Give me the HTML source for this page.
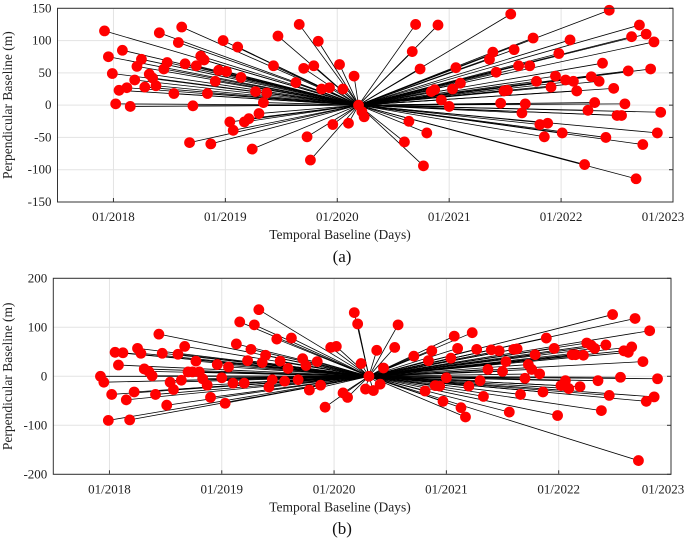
<!DOCTYPE html>
<html><head><meta charset="utf-8"><style>
body{margin:0;background:#fff;}
svg{display:block;}
svg text{font-family:"Liberation Serif","DejaVu Serif",serif;}
</style></head><body>
<svg id="c" width="685" height="540"></svg>
<script>
// Panel (a) data
const aRef = [2020.19, 0];
const aDates = [2017.92,2017.955,2017.99,2018.02,2018.05,2018.12,2018.08,2018.15,2018.19,2018.21,2018.25,2018.28,2018.32,2018.35,2018.38,2018.41,2018.45,2018.48,2018.54,2018.58,2018.61,2018.64,2018.68,2018.71,2018.74,2018.78,2018.81,2018.84,2018.87,2018.91,2018.94,2018.98,2019.01,2019.04,2019.07,2019.11,2019.14,2019.17,2019.21,2019.24,2019.27,2019.30,2019.34,2019.37,2019.43,2019.47,2019.63,2019.66,2019.70,2019.73,2019.76,2019.79,2019.83,2019.86,2019.93,2019.96,2020.02,2020.05,2020.10,2020.15,2020.24,2020.22,2020.64,2020.60,2020.67,2020.70,2020.74,2020.77,2020.80,2020.90,2020.84,2020.87,2020.93,2021.00,2021.03,2021.06,2021.10,2021.36,2021.39,2021.42,2021.46,2021.49,2021.52,2021.55,2021.58,2021.62,2021.65,2021.68,2021.72,2021.75,2021.78,2021.81,2021.85,2021.88,2021.91,2021.95,2021.98,2022.01,2022.04,2022.08,2022.11,2022.14,2022.21,2022.24,2022.27,2022.30,2022.34,2022.37,2022.40,2022.43,2022.47,2022.50,2022.54,2022.57,2022.60,2022.63,2022.67,2022.70,2022.73,2022.76,2022.80,2022.83,2022.86,2022.89];
const aBaselines = [115,75,49,2,23,27,85,-2,39,60,71,28,48,42,30,112,56,66,18,97,121,64,-58,-1,61,76,70,18,-60,37,54,100,52,-26,-39,90,43,-26,-21,-68,21,-13,4,19,61,107,35,125,57,-49,-85,61,99,25,27,-30,63,25,-28,45,-18,-10,-25,-57,83,125,56,-94,-43,124,21,24,8,-2,25,58,34,71,82,51,3,22,23,141,86,61,-12,2,61,104,37,-30,-49,-28,28,45,80,-43,39,101,37,22,-92,-8,44,4,37,65,-50,147,26,-16,-16,2,53,106,-114,124,-61,110,56,98,-43,-11];
const aYTicks = [150,100,50,0,-50,-100,-150];
// Panel (b) data
const bRef = [2020.31, 0];
const bDates = [2017.92,2017.95,2017.99,2018.02,2018.05,2018.08,2018.12,2018.15,2018.18,2018.22,2018.25,2018.28,2018.31,2018.35,2018.38,2018.41,2018.44,2018.47,2018.51,2018.54,2018.57,2018.61,2018.64,2018.67,2018.70,2018.74,2018.77,2018.80,2018.83,2018.87,2018.90,2018.96,2019.00,2019.03,2019.06,2019.10,2019.13,2019.16,2019.20,2019.23,2019.26,2019.29,2019.33,2019.36,2019.39,2019.42,2019.45,2019.49,2019.52,2019.56,2019.59,2019.62,2019.68,2019.72,2019.75,2019.78,2019.85,2019.88,2019.92,2019.97,2020.02,2020.08,2020.12,2020.18,2020.21,2020.24,2020.28,2020.35,2020.38,2020.41,2020.44,2020.54,2020.57,2020.71,2020.81,2020.84,2020.87,2020.90,2020.94,2020.97,2021.00,2021.04,2021.07,2021.10,2021.13,2021.17,2021.20,2021.23,2021.27,2021.30,2021.33,2021.37,2021.40,2021.47,2021.50,2021.53,2021.56,2021.60,2021.63,2021.66,2021.70,2021.73,2021.76,2021.79,2021.83,2021.86,2021.89,2021.96,2021.99,2022.02,2022.06,2022.09,2022.12,2022.15,2022.19,2022.22,2022.25,2022.29,2022.32,2022.35,2022.38,2022.42,2022.45,2022.48,2022.55,2022.58,2022.62,2022.65,2022.68,2022.71,2022.75,2022.78,2022.81,2022.85,2022.88];
const bBaselines = [0,-12,-90,-37,49,23,48,-48,-89,-32,57,47,15,10,1,-37,86,47,-59,-12,-27,45,-8,61,9,9,31,9,-5,-18,-43,24,-3,-55,19,-14,66,111,-14,32,55,105,136,28,43,-22,-7,76,31,-10,16,78,-7,36,22,-28,30,-18,-63,59,61,-34,-43,130,107,26,-26,-29,53,-16,17,59,105,41,-30,32,52,-19,-20,-51,-3,37,82,57,-64,-83,-20,89,55,-9,-41,14,54,52,10,30,-73,55,56,-37,-4,24,14,44,5,-32,78,57,-80,-19,-9,-25,44,44,-21,43,68,63,57,-9,-70,64,-39,126,-2,52,49,60,118,-172,30,-51,93,-42,-5];
const bYTicks = [200,100,0,-100,-200];
const xTickYears = [2018,2019,2020,2021,2022,2023];
const xTickLabels = ["01/2018","01/2019","01/2020","01/2021","01/2022","01/2023"];

const NS="http://www.w3.org/2000/svg";
const svg=document.getElementById('c');
const FF='"Liberation Serif","DejaVu Serif",serif';
function mk(tag,attrs,parent){const e=document.createElementNS(NS,tag);for(const k in attrs)e.setAttribute(k,attrs[k]);if(tag==='text')e.setAttribute('font-family',FF);(parent||svg).appendChild(e);return e;}

function panel(p){
  const g=mk('g',{});
  
  
  const L=p.left,R=p.right,T=p.top,B=p.bottom;
  const xs=d=>L+(d-2017.5)/(5.5)*(R-L);
  const ys=v=>T+(p.ymax-v)/(p.ymax-p.ymin)*(B-T);
  xTickYears.forEach((yr,i)=>{
    const x=xs(yr);
    const gl=mk('line',{x1:x,x2:x,y1:T,y2:B,stroke:'#e3e3e3','stroke-width':1},g);
    
    
    const tk=mk('line',{x1:x,x2:x,y1:B,y2:B-4,stroke:'#333'},g);
    
    
    const t=mk('text',{x:Math.min(x,663),y:B+19,'text-anchor':'middle','font-size':13,fill:'#222'},g);
    t.textContent=xTickLabels[i];
    
    
  });
  p.yticks.forEach(v=>{
    const y=ys(v);
    const gl=mk('line',{x1:L,x2:R,y1:y,y2:y,stroke:'#e3e3e3'},g);
    
    
    const tk=mk('line',{x1:R,x2:R-4,y1:y,y2:y,stroke:'#333'},g);
    
    
    const t=mk('text',{x:L-6,y:y+4,'text-anchor':'end','font-size':13,fill:'#222'},g);
    t.textContent=String(v);
    
    
  });
  const cx=xs(p.ref[0]),cy=ys(p.ref[1]);
  p.dates.forEach((d,i)=>{
    const ln=mk('line',{x1:cx,y1:cy,x2:xs(d),y2:ys(p.vals[i]),stroke:'#000','stroke-width':0.8},g);
    
    
  });
  p.dates.forEach((d,i)=>{
    const c=mk('circle',{cx:xs(d),cy:ys(p.vals[i]),r:5.4,fill:'#ff0000'},g);
    
    
  });
  const rc=mk('circle',{cx:cx,cy:cy,r:5.4,fill:'#ff0000'},g);
  
  
  const fr=mk('rect',{x:L,y:T,width:R-L,height:B-T,fill:'none',stroke:'#333','stroke-width':1},g);
  
  
  const xt=mk('text',{x:340,y:B+37,'text-anchor':'middle','font-size':13.5,fill:'#222'},g);
  xt.textContent='Temporal Baseline (Days)';
  
  
  const ym=(T+B)/2;
  const yt=mk('text',{x:12,y:ym,'text-anchor':'middle','font-size':13.5,fill:'#222',transform:`rotate(-90 12 ${ym})`},g);
  yt.textContent='Perpendicular Baseline (m)';
  
  
  const cap=mk('text',{x:342,y:p.capY,'text-anchor':'middle','font-size':17,fill:'#111'},g);
  cap.textContent=p.cap;
  
  
}
panel({name:'panel-a',left:57.5,right:673,top:8.3,bottom:202,ymin:-150,ymax:150,yticks:aYTicks,ref:aRef,dates:aDates,vals:aBaselines,cap:'(a)',capY:262});
panel({name:'panel-b',left:53.3,right:671,top:278.3,bottom:474.3,ymin:-200,ymax:200,yticks:bYTicks,ref:bRef,dates:bDates,vals:bBaselines,cap:'(b)',capY:534});
</script>
</body></html>
